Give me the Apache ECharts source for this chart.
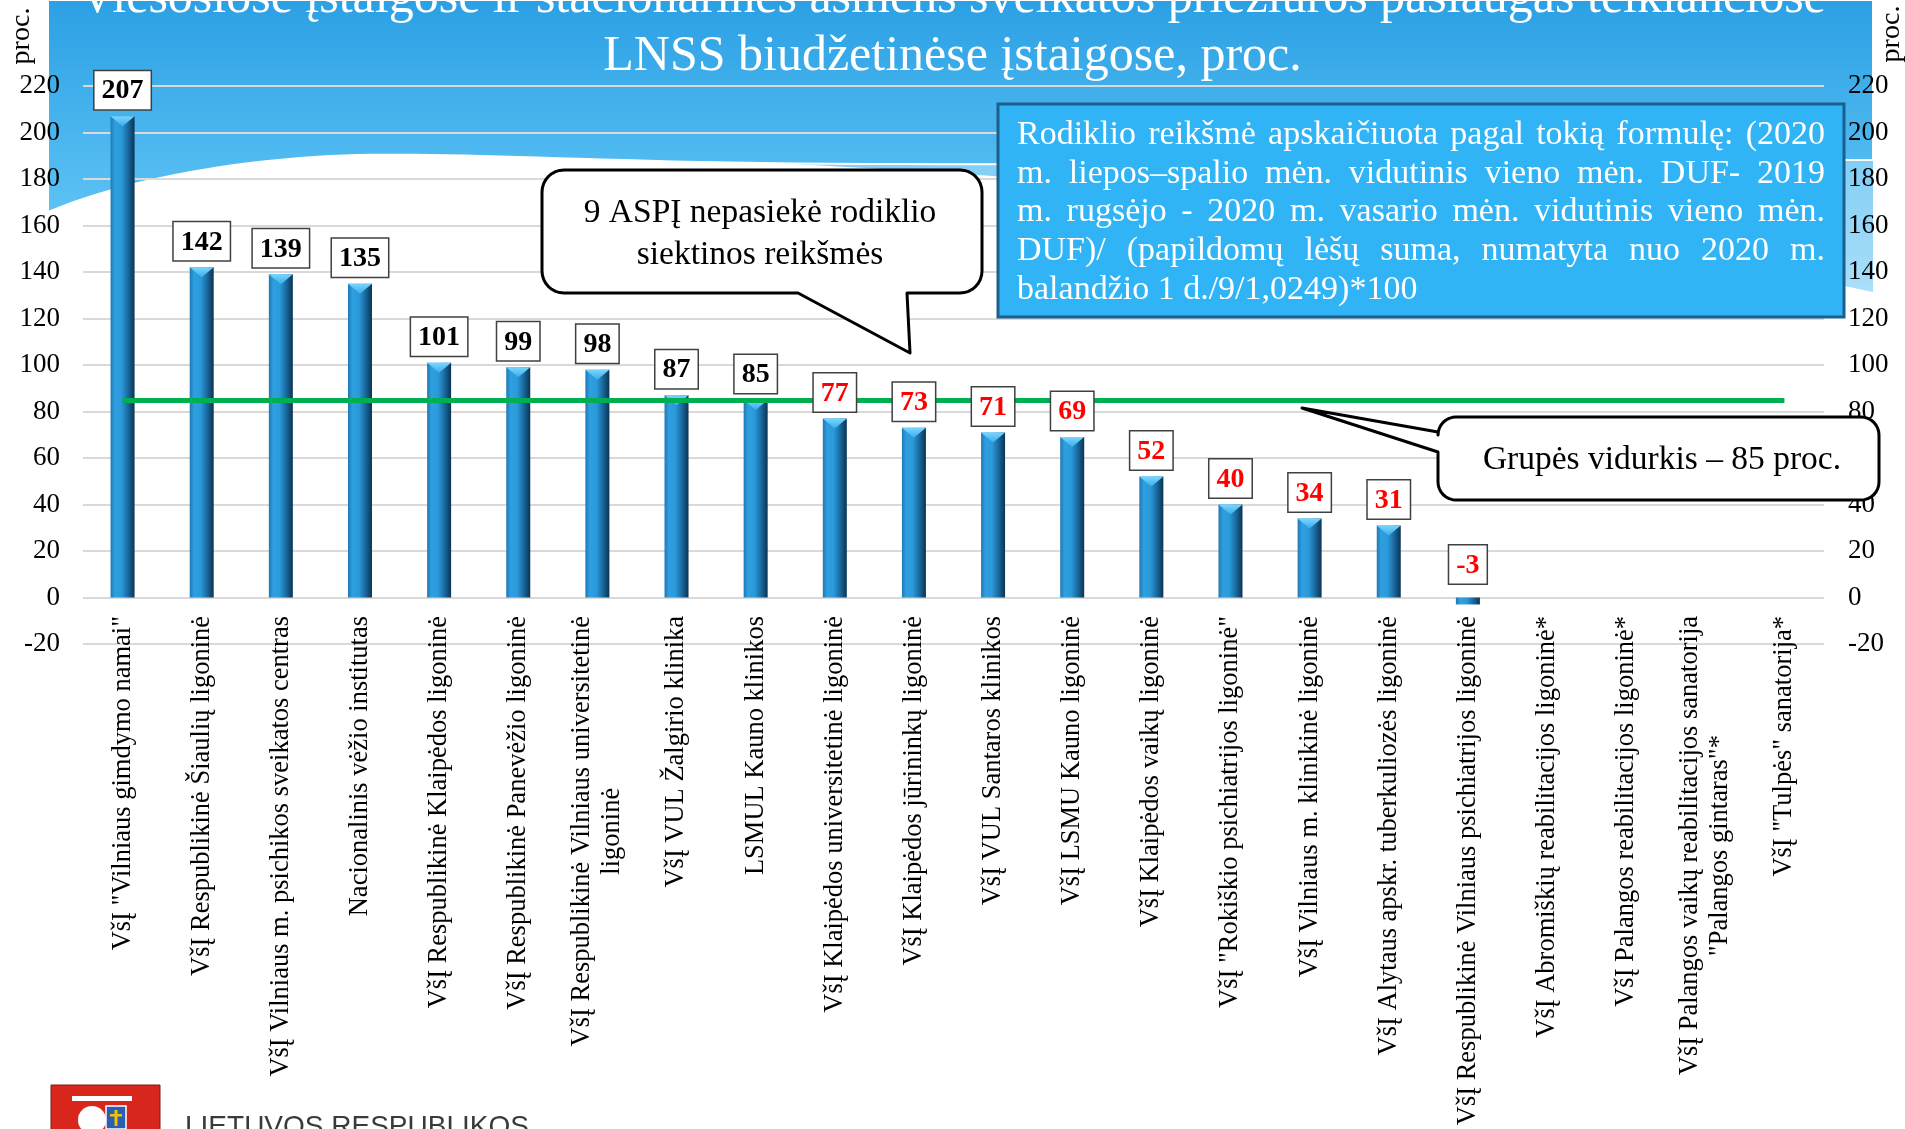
<!DOCTYPE html>
<html>
<head>
<meta charset="utf-8">
<script src="https://cdn.jsdelivr.net/npm/echarts@6/dist/echarts.min.js"></script>
<style>
html,body{margin:0;padding:0;background:#fff;}
#main{width:1905px;height:1129px;}
</style>
</head>
<body>
<div id="main"></div>
<script>
// ---------- DATA ----------
const categories = [
  'VšĮ "Vilniaus gimdymo namai"',
  'VšĮ Respublikinė Šiaulių ligoninė',
  'VšĮ Vilniaus m. psichikos sveikatos centras',
  'Nacionalinis vėžio institutas',
  'VšĮ Respublikinė Klaipėdos ligoninė',
  'VšĮ Respublikinė Panevėžio ligoninė',
  'VšĮ Respublikinė Vilniaus universitetinė\nligoninė',
  'VšĮ VUL Žalgirio klinika',
  'LSMUL Kauno klinikos',
  'VšĮ Klaipėdos universitetinė ligoninė',
  'VšĮ Klaipėdos jūrininkų ligoninė',
  'VšĮ VUL Santaros klinikos',
  'VšĮ LSMU Kauno ligoninė',
  'VšĮ Klaipėdos vaikų ligoninė',
  'VšĮ "Rokiškio psichiatrijos ligoninė"',
  'VšĮ Vilniaus m. klinikinė ligoninė',
  'VšĮ Alytaus apskr. tuberkuliozės ligoninė',
  'VšĮ Respublikinė Vilniaus psichiatrijos ligoninė',
  'VšĮ Abromiškių reabilitacijos ligoninė*',
  'VšĮ Palangos reabilitacijos ligoninė*',
  'VšĮ Palangos vaikų reabilitacijos sanatorija\n"Palangos gintaras"*',
  'VšĮ "Tulpės" sanatorija*'
];
const values = [207, 142, 139, 135, 101, 99, 98, 87, 85, 77, 73, 71, 69, 52, 40, 34, 31, -3, null, null, null, null];
const groupAverage = 85;
const yMin = -20;
const yMax = 220;
const yInterval = 20;
const axisUnit = 'proc.';
const titleLines = [
  'Viešosiose įstaigose ir stacionarinės asmens sveikatos priežiūros paslaugas teikiančiose',
  'LNSS biudžetinėse įstaigose, proc.'
];
const calloutMissed = ['9 ASPĮ nepasiekė rodiklio', 'siektinos reikšmės'];
const calloutAverage = 'Grupės vidurkis – 85 proc.';
const formulaLines = [
  'Rodiklio reikšmė apskaičiuota pagal tokią formulę: (2020',
  'm. liepos–spalio mėn. vidutinis vieno mėn. DUF- 2019',
  'm. rugsėjo - 2020 m. vasario mėn. vidutinis vieno mėn.',
  'DUF)/ (papildomų lėšų suma, numatyta nuo 2020 m.',
  'balandžio 1 d./9/1,0249)*100'
];
const footerText = 'LIETUVOS RESPUBLIKOS';

// ---------- STYLE ----------
const SERIF = '"Liberation Serif", "Times New Roman", serif';
const RED = '#ff0000';

function lin(x0, y0, x1, y1, stops) {
  return { type: 'linear', x: x0, y: y0, x2: x1, y2: y1, colorStops: stops, global: false };
}

const barGradient = lin(0, 0, 1, 0, [
  { offset: 0, color: '#1f78b4' },
  { offset: 0.18, color: '#2e9fe0' },
  { offset: 0.45, color: '#2b9ada' },
  { offset: 0.72, color: '#1a6aa0' },
  { offset: 1, color: '#0b3352' }
]);

const labelData = values.map(v => v === null ? null : {
  value: v,
  label: {
    color: v < groupAverage ? RED : '#000',
    distance: v < 0 ? 14 : 7
  }
});
const bevelData = values.map(v => (v !== null && v > 0) ? v : '-');

// ---------- decoration geometry helpers ----------
function arcPts(cx, cy, r, a0, a1, n) {
  const pts = [];
  for (let i = 0; i <= n; i++) {
    const a = a0 + (a1 - a0) * i / n;
    pts.push([cx + r * Math.cos(a), cy + r * Math.sin(a)]);
  }
  return pts;
}
function cubicPts(p0, p1, p2, p3, n) {
  const pts = [];
  for (let i = 1; i <= n; i++) {
    const t = i / n, u = 1 - t;
    pts.push([
      u * u * u * p0[0] + 3 * u * u * t * p1[0] + 3 * u * t * t * p2[0] + t * t * t * p3[0],
      u * u * u * p0[1] + 3 * u * u * t * p1[1] + 3 * u * t * t * p2[1] + t * t * t * p3[1]
    ]);
  }
  return pts;
}
const PI = Math.PI;

const b1 = [].concat(
  arcPts(564, 192, 22, PI, 1.5 * PI, 8),
  arcPts(960, 192, 22, 1.5 * PI, 2 * PI, 8),
  arcPts(960, 271, 22, 0, 0.5 * PI, 8),
  [[907, 293], [910, 353], [798, 293]],
  arcPts(564, 271, 22, 0.5 * PI, PI, 8)
);
const b2 = [].concat(
  arcPts(1456, 435, 18, PI, 1.5 * PI, 8),
  arcPts(1861, 435, 18, 1.5 * PI, 2 * PI, 8),
  arcPts(1861, 482, 18, 0, 0.5 * PI, 8),
  arcPts(1456, 482, 18, 0.5 * PI, PI, 8),
  [[1438, 452], [1302, 408], [1438, 432]]
);
const band = [[48, 0], [1873, 0], [1873, 160]].concat(
  cubicPts([1873, 160], [1500, 160], [1000, 168], [700, 162], 30),
  cubicPts([700, 162], [520, 158], [420, 152], [330, 156], 20),
  cubicPts([330, 156], [220, 162], [120, 182], [48, 212], 20)
);
const lightWave = [[470, 150]].concat(
  cubicPts([470, 150], [900, 166], [1400, 190], [1873, 292], 40),
  [[1873, 150]]
);

const measureCtx = document.createElement('canvas').getContext('2d');
const formulaFont = 34;
measureCtx.font = formulaFont + 'px "Liberation Serif"';
function justified(lines, x0, width, y0, step) {
  const els = [];
  lines.forEach((line, li) => {
    const words = line.split(' ');
    const ws = words.map(w => measureCtx.measureText(w).width);
    const total = ws.reduce((a, b) => a + b, 0);
    const last = li === lines.length - 1;
    const sp = measureCtx.measureText(' ').width;
    let gap = (last || words.length < 2) ? sp : (width - total) / (words.length - 1);
    if (gap < sp * 0.5 && !last) { gap = sp * 0.5; }
    let x = x0;
    words.forEach((w, i) => {
      els.push({
        type: 'text', z: 12, x: x, y: y0 + li * step,
        style: { text: w, fill: '#fff', fontSize: formulaFont, fontFamily: SERIF, verticalAlign: 'middle', align: 'left' }
      });
      x += ws[i] + gap;
    });
  });
  return els;
}

const graphics = [
  {
    type: 'polygon', z: -3, silent: true,
    shape: { points: lightWave },
    style: { fill: lin(0, 0, 0, 1, [{ offset: 0, color: '#7fcdf5' }, { offset: 1, color: '#a9dff9' }]) }
  },
  {
    type: 'polygon', z: -2, silent: true,
    shape: { points: band },
    style: {
      fill: lin(0, 0, 0, 1, [{ offset: 0, color: '#2ba0e4' }, { offset: 1, color: '#5cc2f4' }]),
      stroke: '#ffffff', lineWidth: 2
    }
  },
  {
    type: 'text', z: 5, x: 22, y: 36, rotation: PI / 2,
    style: { text: axisUnit, fill: '#000', fontSize: 28, fontFamily: SERIF, align: 'center', verticalAlign: 'middle' }
  },
  {
    type: 'text', z: 5, x: 1892, y: 34, rotation: PI / 2,
    style: { text: axisUnit, fill: '#000', fontSize: 28, fontFamily: SERIF, align: 'center', verticalAlign: 'middle' }
  },
  {
    type: 'polygon', z: 10, shape: { points: b1 },
    style: { fill: '#fff', stroke: '#000', lineWidth: 3, lineJoin: 'round' }
  },
  {
    type: 'text', z: 11, x: 760, y: 234,
    style: { text: calloutMissed.join('\n'), fill: '#000', fontSize: 33.5, fontFamily: SERIF, align: 'center', verticalAlign: 'middle', lineHeight: 42 }
  },
  {
    type: 'polygon', z: 10, shape: { points: b2 },
    style: { fill: '#fff', stroke: '#000', lineWidth: 3, lineJoin: 'round' }
  },
  {
    type: 'text', z: 11, x: 1662, y: 460,
    style: { text: calloutAverage, fill: '#000', fontSize: 33.5, fontFamily: SERIF, align: 'center', verticalAlign: 'middle' }
  },
  {
    type: 'rect', z: 10,
    shape: { x: 998, y: 104, width: 846, height: 213 },
    style: { fill: '#31b4f6', stroke: '#1d5f8c', lineWidth: 3 }
  }
].concat(justified(formulaLines, 1017, 808, 135, 38.7)).concat([
  { type: 'rect', z: 10, shape: { x: 51, y: 1085, width: 109, height: 60 }, style: { fill: '#d9261c', stroke: '#7a1a14', lineWidth: 1 } },
  { type: 'rect', z: 11, shape: { x: 72, y: 1096, width: 60, height: 5 }, style: { fill: '#ffffff' } },
  { type: 'circle', z: 11, shape: { cx: 92, cy: 1120, r: 14 }, style: { fill: '#ffffff' } },
  { type: 'rect', z: 12, shape: { x: 106, y: 1106, width: 20, height: 23 }, style: { fill: '#2b5fb3', stroke: '#ffffff', lineWidth: 1.5 } },
  { type: 'rect', z: 13, shape: { x: 114.5, y: 1110, width: 3, height: 16 }, style: { fill: '#f2c200' } },
  { type: 'rect', z: 13, shape: { x: 110, y: 1114, width: 12, height: 2.5 }, style: { fill: '#f2c200' } },
  {
    type: 'text', z: 10, x: 185, y: 1113,
    style: { text: footerText, fill: '#3a3a3a', fontSize: 28, fontFamily: '"Liberation Sans", Arial, sans-serif', align: 'left', verticalAlign: 'top' }
  }
]);

const yAxisBase = {
  type: 'value', min: yMin, max: yMax, interval: yInterval,
  axisLine: { show: false }, axisTick: { show: false },
  axisLabel: { color: '#000', fontSize: 27, fontFamily: SERIF }
};

const option = {
  animation: false,
  backgroundColor: '#ffffff',
  title: {
    text: titleLines.join('\n'),
    left: 'center', top: -30, padding: 0,
    textStyle: { color: '#ffffff', fontSize: 50, fontWeight: 'normal', fontFamily: SERIF, lineHeight: 58 }
  },
  grid: { left: 83, right: 81, top: 86, bottom: 485, containLabel: false, outerBoundsMode: 'none' },
  xAxis: {
    type: 'category', data: categories,
    axisLine: { show: false, onZero: false }, axisTick: { show: false },
    axisLabel: {
      interval: 0, rotate: 90, margin: -28,
      formatter: v => v.split('\n').map(l => '{c|' + l + '}').join('\n'),
      rich: { c: { align: 'center', color: '#000', fontSize: 26.5, fontFamily: SERIF, lineHeight: 30 } }
    }
  },
  yAxis: [
    Object.assign({}, yAxisBase, {
      position: 'left',
      axisLabel: Object.assign({}, yAxisBase.axisLabel, { margin: 23 }),
      splitLine: { show: true, lineStyle: { color: '#d9d9d9', width: 2 } }
    }),
    Object.assign({}, yAxisBase, {
      position: 'right',
      axisLabel: Object.assign({}, yAxisBase.axisLabel, { margin: 24 }),
      splitLine: { show: false }
    })
  ],
  series: [
    {
      type: 'bar', yAxisIndex: 0, barWidth: 24, barGap: '-100%', data: values,
      itemStyle: { color: barGradient },
      markLine: {
        silent: true, symbol: ['none', 'none'], label: { show: false }, z: 5,
        lineStyle: { color: '#00b050', width: 5, type: 'solid' },
        data: [[{ coord: [0, groupAverage] }, { coord: [categories.length - 1, groupAverage] }]]
      },
      z: 2
    },
    {
      type: 'pictorialBar', yAxisIndex: 0, barWidth: 24, data: bevelData,
      symbol: 'path://M0,0 L24,0 L12,10 Z', symbolSize: [24, 10], symbolPosition: 'end',
      itemStyle: { color: lin(0, 0, 0, 1, [{ offset: 0, color: '#7ad6ff' }, { offset: 1, color: '#39aeea' }]) },
      silent: true, z: 3
    },
    {
      type: 'bar', yAxisIndex: 0, barWidth: 24, barGap: '-100%', data: labelData,
      itemStyle: { color: 'rgba(0,0,0,0)' },
      label: {
        show: true, position: 'top', distance: 7,
        fontFamily: SERIF, fontWeight: 'bold', fontSize: 28, lineHeight: 32,
        backgroundColor: '#ffffff', borderColor: '#404040', borderWidth: 1.5,
        padding: [4, 7, 2, 7]
      },
      silent: true, z: 8
    }
  ],
  graphic: { elements: graphics }
};

const chart = echarts.init(document.getElementById('main'), null, { renderer: 'canvas' });
chart.setOption(option);
</script>
</body>
</html>
